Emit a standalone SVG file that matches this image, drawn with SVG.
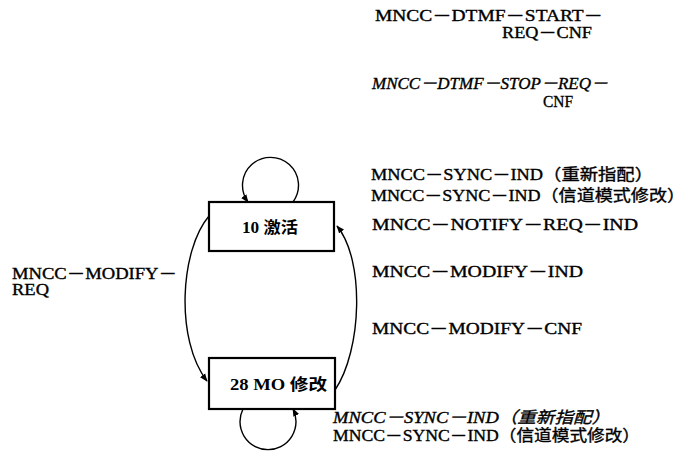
<svg xmlns="http://www.w3.org/2000/svg" width="691" height="459" viewBox="0 0 691 459">
<style>
text{font-family:"Liberation Serif","Noto Sans CJK SC",serif;font-size:16px;fill:#000;stroke:#000;stroke-width:0.35}
.it{font-style:italic}
.b{font-weight:bold;stroke-width:0}
.box{fill:#fff;stroke:#000;stroke-width:2.2}
.c{fill:none;stroke:#000;stroke-width:1.4}
</style>
<defs>
<marker id="ah" viewBox="0 0 10 10" refX="9" refY="5" markerWidth="8" markerHeight="8" markerUnits="userSpaceOnUse" orient="auto">
<path d="M0,1 L10,5 L0,9 Z" fill="#000"/>
</marker>
</defs>
<g id="connectors">
<path class="c" d="M293,202 A28,28 0 1 0 248,202" marker-end="url(#ah)"/>
<path class="c" d="M243,409 A28,28 0 1 0 293,409" marker-end="url(#ah)"/>
<path class="c" d="M209,216 C180,250 175,340 207,381" marker-end="url(#ah)"/>
<path class="c" d="M335,390 C362,350 365,260 337,226" marker-end="url(#ah)"/>
</g>
<g id="node-10">
<rect class="box" x="209" y="202" width="125" height="49"/>
<text class="b" x="242" y="233" textLength="56" lengthAdjust="spacingAndGlyphs">10 激活</text>
</g>
<g id="node-28">
<rect class="box" x="209" y="358" width="126" height="51"/>
<text class="b" x="230" y="390" textLength="97" lengthAdjust="spacingAndGlyphs">28 MO 修改</text>
</g>
<g id="labels">
<text x="375" y="21" textLength="228" lengthAdjust="spacingAndGlyphs">MNCC－DTMF－START－</text>
<text x="502" y="38" textLength="90" lengthAdjust="spacingAndGlyphs">REQ－CNF</text>
<text class="it" x="372" y="89" textLength="236" lengthAdjust="spacingAndGlyphs">MNCC－DTMF－STOP－REQ－</text>
<text x="543" y="107" textLength="30" lengthAdjust="spacingAndGlyphs">CNF</text>
<text x="371" y="180" textLength="282" lengthAdjust="spacingAndGlyphs">MNCC－SYNC－IND（重新指配）</text>
<text x="371" y="201" textLength="314" lengthAdjust="spacingAndGlyphs">MNCC－SYNC－IND（信道模式修改）</text>
<text x="372" y="230" textLength="266" lengthAdjust="spacingAndGlyphs">MNCC－NOTIFY－REQ－IND</text>
<text x="372" y="277" textLength="211" lengthAdjust="spacingAndGlyphs">MNCC－MODIFY－IND</text>
<text x="372" y="334" textLength="210" lengthAdjust="spacingAndGlyphs">MNCC－MODIFY－CNF</text>
<text x="12" y="279" textLength="165" lengthAdjust="spacingAndGlyphs">MNCC－MODIFY－</text>
<text x="12" y="295" textLength="37" lengthAdjust="spacingAndGlyphs">REQ</text>
<text class="it" x="333" y="423" textLength="277" lengthAdjust="spacingAndGlyphs">MNCC－SYNC－IND（重新指配）</text>
<text x="333" y="441" textLength="307" lengthAdjust="spacingAndGlyphs">MNCC－SYNC－IND（信道模式修改）</text>
</g>
</svg>
